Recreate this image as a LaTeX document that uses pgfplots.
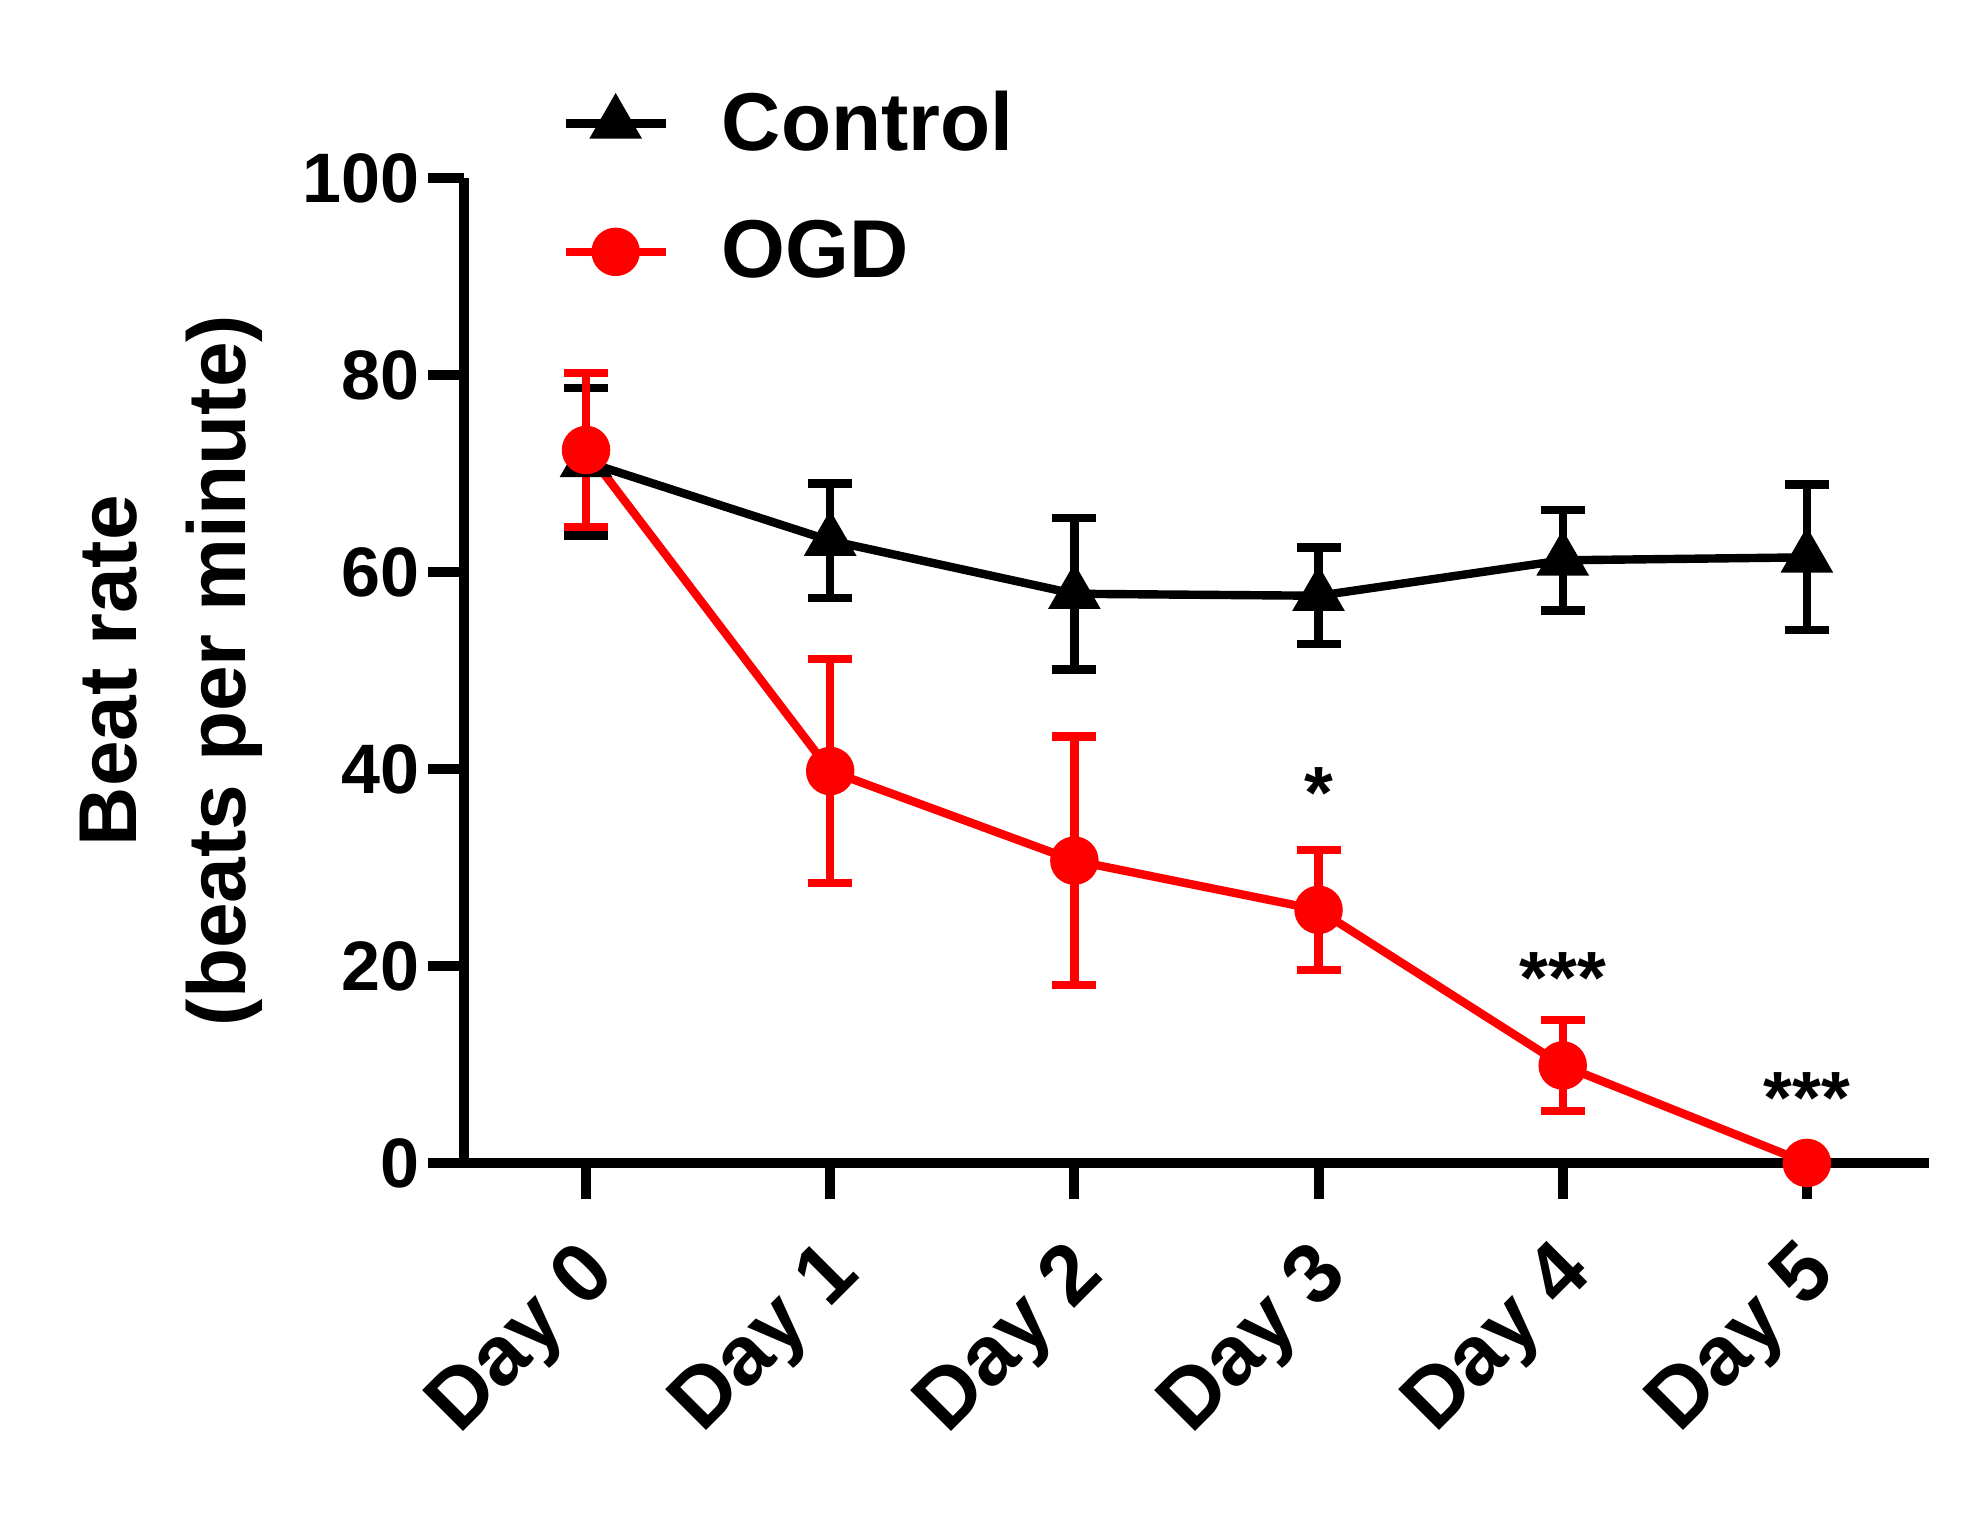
\documentclass[border=0pt]{standalone}
\usepackage{pgfplots}
\pgfplotsset{compat=1.18}
\usepackage{fontspec}
\setmainfont{Liberation Sans}
\begin{document}
\begin{tikzpicture}
\begin{axis}[
  scale only axis,
  width=366pt, height=246pt,
  xmin=-0.5, xmax=5.5, ymin=0, ymax=100,
  axis x line=bottom, axis y line=left,
  axis line style={line width=2.5pt, -},
  every tick/.style={line width=2.5pt, black},
  tick align=outside,
  major tick length=9pt,
  xtick={0,1,2,3,4,5},
  xticklabels={Day 0,Day 1,Day 2,Day 3,Day 4,Day 5},
  ytick={0,20,40,60,80,100},
  /pgf/number format/assume math mode=true,
  ticklabel style={font=\bfseries\fontsize{17.5}{20}\selectfont},
  x tick label style={font=\bfseries\fontsize{21}{24}\selectfont, rotate=45, anchor=north east, inner sep=2pt, yshift=-2.5pt, xshift=-6pt},
  y tick label style={inner sep=2pt},
  ylabel={Beat rate\\(beats per minute)},
  ylabel style={font=\bfseries\fontsize{20.5}{27}\selectfont, align=center, yshift=4.5pt},
  clip=false,
  legend style={draw=none, fill=none, at={(rel axis cs:0.066,0.991)}, anchor=west, inner sep=0pt,
    font=\bfseries\fontsize{20.5}{24}\selectfont, row sep=12pt, nodes={inner sep=2pt},
    /tikz/every odd column/.append style={column sep=11pt}},
  legend cell align=left,
  legend image code/.code={\draw[mark repeat=2,mark phase=2] plot coordinates {(0pt,0pt)(12.5pt,0pt)(25pt,0pt)};},
]
\addplot[black, line width=2.1pt, mark=triangle*, mark size=5.5pt, mark options={solid},
  error bars/.cd, y dir=both, y explicit,
  error bar style={line width=2.1pt, black},
  error mark options={rotate=90, mark size=5.5pt, line width=2.1pt, black}]
  coordinates {
  (0,71.2) +- (0,7.5)
  (1,63.2) +- (0,5.8)
  (2,57.8) +- (0,7.7)
  (3,57.6) +- (0,4.9)
  (4,61.2) +- (0,5.1)
  (5,61.5) +- (0,7.4)
  };
\addlegendentry{Control}
\addplot[red, line width=2.1pt, mark=*, mark size=5pt, mark options={solid},
  error bars/.cd, y dir=both, y explicit,
  error bar style={line width=2.1pt, red},
  error mark options={rotate=90, mark size=5.5pt, line width=2.1pt, red}]
  coordinates {
  (0,72.4) +- (0,7.8)
  (1,39.8) +- (0,11.4)
  (2,30.7) +- (0,12.6)
  (3,25.7) +- (0,6.1)
  (4,9.9) +- (0,4.6)
  (5,0) +- (0,0)
  };
\addlegendentry{OGD}
\node[font=\bfseries\fontsize{18.5}{20}\selectfont] at (axis cs:3,37.6) {*};
\node[font=\bfseries\fontsize{18.5}{20}\selectfont] at (axis cs:4,18.8) {***};
\node[font=\bfseries\fontsize{18.5}{20}\selectfont] at (axis cs:5,6.6) {***};
\path (rel axis cs:-0.3167,-0.363) rectangle (rel axis cs:1.0328,1.181);
\end{axis}
\end{tikzpicture}
\end{document}
